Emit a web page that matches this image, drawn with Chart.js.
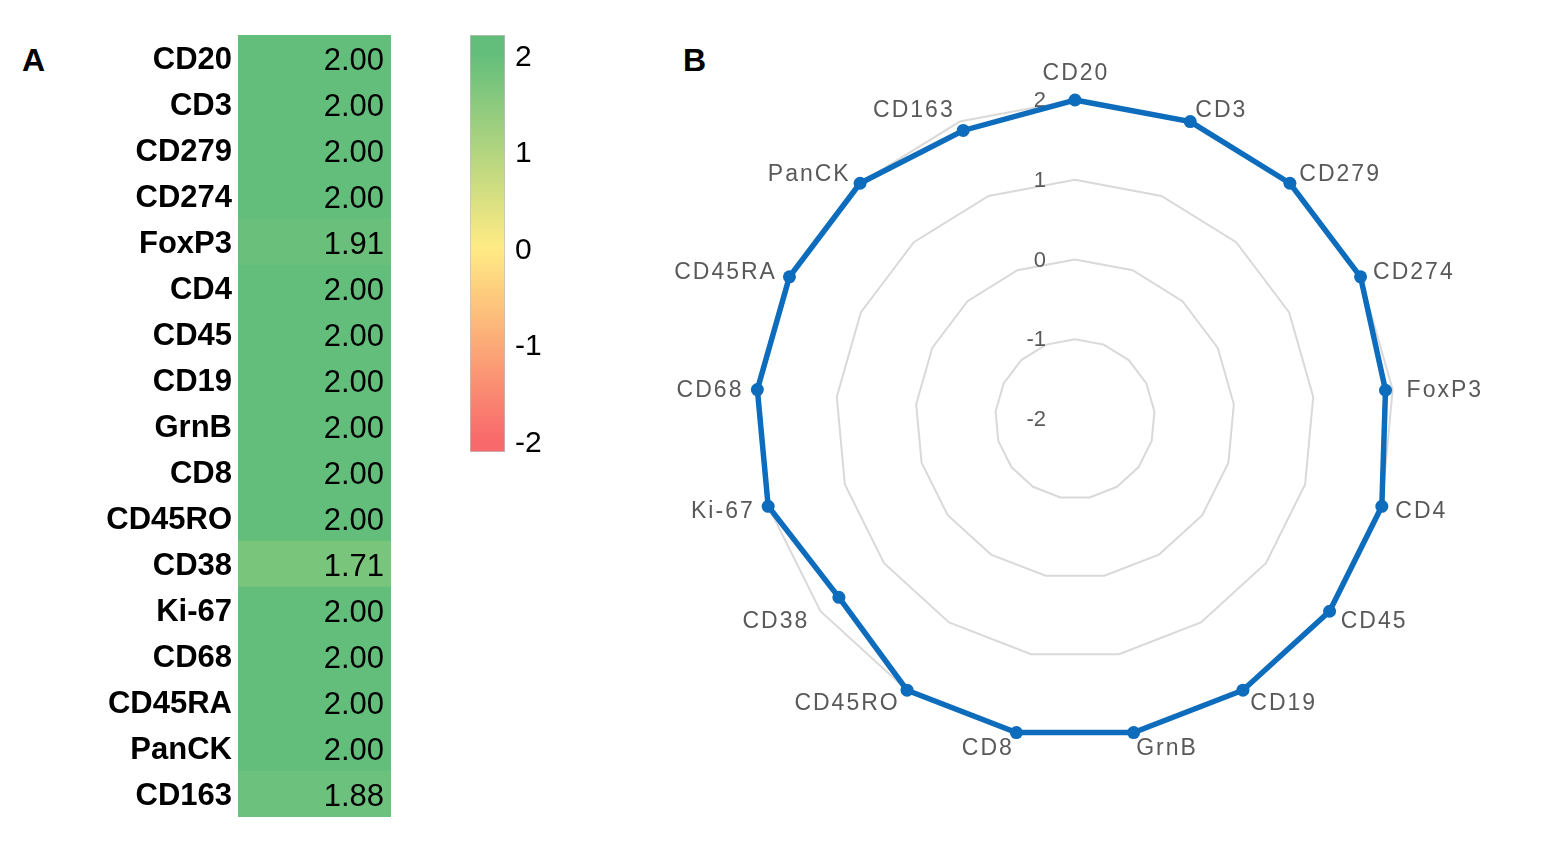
<!DOCTYPE html>
<html><head><meta charset="utf-8">
<script src="https://cdn.jsdelivr.net/npm/chart.js@4"></script>
<style>
html,body{margin:0;padding:0;background:#fff;width:1558px;height:846px;overflow:hidden;font-family:"Liberation Sans",Arial,sans-serif;}
.box{position:absolute;}
.panel{position:absolute;font-weight:bold;font-size:32px;line-height:34px;color:#000;}
</style></head><body>
<div class="panel" style="left:22px;top:43px">A</div>
<div class="panel" style="left:683px;top:43px">B</div>
<div class="box" style="left:0;top:0;width:400px;height:846px"><canvas id="heat"></canvas></div>
<div class="box" style="left:440px;top:0;width:135px;height:480px"><canvas id="scale"></canvas></div>
<div class="box" style="left:640px;top:0;width:918px;height:846px"><canvas id="radar"></canvas></div>
<script>
// ---- data ----
const markers = ['CD20','CD3','CD279','CD274','FoxP3','CD4','CD45','CD19','GrnB','CD8','CD45RO','CD38','Ki-67','CD68','CD45RA','PanCK','CD163'];
const scores  = [2.00,2.00,2.00,2.00,1.91,2.00,2.00,2.00,2.00,2.00,2.00,1.71,2.00,2.00,2.00,2.00,1.88];
const colorScaleTicks = [-2,-1,0,1,2];
const radialTicks = [-2,-1,0,1,2];
const colorStops = {min:-2, mid:0, max:2, low:'#F8696B', midC:'#FFEB84', high:'#63BE7B'};

function hex(h){return [parseInt(h.slice(1,3),16),parseInt(h.slice(3,5),16),parseInt(h.slice(5,7),16)];}
function mix(a,b,t){const A=hex(a),B=hex(b);return 'rgb('+A.map((v,i)=>Math.round(v+(B[i]-v)*t)).join(',')+')';}
function colorFor(v){
  if(v>=colorStops.mid) return mix(colorStops.midC,colorStops.high,(v-colorStops.mid)/(colorStops.max-colorStops.mid));
  return mix(colorStops.low,colorStops.midC,(v-colorStops.min)/(colorStops.mid-colorStops.min));
}
Chart.defaults.font.family = '"Liberation Sans", Arial, sans-serif';

// ---- Panel A: heatmap cells (full-width cells, value encoded by colour) ----
new Chart(document.getElementById('heat'), {
  type:'bar',
  data:{labels:markers, datasets:[{data:markers.map(()=>1), backgroundColor:scores.map(colorFor), barPercentage:1, categoryPercentage:1, borderWidth:0}]},
  options:{
    indexAxis:'y', responsive:true, maintainAspectRatio:false, animation:false,
    layout:{padding:{top:35,bottom:29,right:9,left:0}},
    plugins:{legend:{display:false},tooltip:{enabled:false}},
    scales:{
      x:{min:0,max:1,display:false},
      y:{grid:{display:false,drawTicks:false},border:{display:false},
         ticks:{color:'#000',font:{size:31,weight:'bold'},padding:6,labelOffset:2},
         afterFit(s){s.width=238;}}
    }
  },
  plugins:[{id:'vals',afterDatasetsDraw(chart){
    const ctx=chart.ctx, y=chart.scales.y;
    ctx.save(); ctx.font='31px "Liberation Sans", Arial'; ctx.fillStyle='#000';
    ctx.textAlign='right'; ctx.textBaseline='middle';
    scores.forEach((v,i)=>ctx.fillText(v.toFixed(2), chart.chartArea.right-7, y.getPixelForValue(i)+3));
    ctx.restore();
  }}]
});

// ---- Panel A: colour scale legend ----
const legendMin=-2.12, legendMax=2.2;
new Chart(document.getElementById('scale'), {
  type:'bar',
  data:{labels:[''], datasets:[{data:[[legendMin,legendMax]], barPercentage:1, categoryPercentage:1,
    borderColor:'#bfbfbf', borderWidth:1, borderSkipped:false,
    backgroundColor(c){const ch=c.chart, ys=ch.scales.y; if(!ch.chartArea||!ys) return colorStops.midC;
      const y0=ys.getPixelForValue(colorStops.min), y1=ys.getPixelForValue(colorStops.max);
      if(!isFinite(y0)||!isFinite(y1)) return colorStops.midC;
      const g=ch.ctx.createLinearGradient(0,y0,0,y1);
      g.addColorStop(0,colorStops.low); g.addColorStop(0.5,colorStops.midC); g.addColorStop(1,colorStops.high); return g;}
  }]},
  options:{responsive:true, maintainAspectRatio:false, animation:false,
    layout:{padding:{top:35,bottom:25,left:30,right:0}},
    plugins:{legend:{display:false},tooltip:{enabled:false}},
    scales:{
      x:{display:false},
      y:{position:'right',min:legendMin,max:legendMax,grid:{display:false,drawTicks:false},border:{display:false},
         afterBuildTicks(s){s.ticks=colorScaleTicks.map(v=>({value:v}));},
         ticks:{color:'#000',font:{size:30},padding:10,labelOffset:3},
         afterFit(s){s.width=70;}}
    }
  }
});

// ---- Panel B: radar ----
const radarText = {
  id:'radarText',
  beforeDatasetsDraw(chart){
    const r=chart.scales.r, ctx=chart.ctx;
    ctx.save(); ctx.font='22px "Liberation Sans", Arial'; ctx.fillStyle='#595959';
    ctx.textAlign='right'; ctx.textBaseline='middle';
    radialTicks.forEach(v=>{const d=r.getDistanceFromCenterForValue(v); ctx.fillText(String(v), r.xCenter-29, r.yCenter-d+1);});
    ctx.restore();
  },
  afterDraw(chart){
    const r=chart.scales.r, ctx=chart.ctx;
    ctx.save(); ctx.font='23px "Liberation Sans", Arial'; ctx.fillStyle='#595959';
    try{ctx.letterSpacing='2px';}catch(e){}
    markers.forEach((m,i)=>{
      const a=r.getIndexAngle(i), s=Math.sin(a), c=Math.cos(a);
      const p=r.getPointPosition(i, r.drawingArea+14);
      if(Math.abs(s)<0.05){
        ctx.textAlign='center';
        if(c>0){ctx.textBaseline='alphabetic'; ctx.fillText(m,p.x+1,p.y-6);} else {ctx.textBaseline='top'; ctx.fillText(m,p.x,p.y);}
      } else {
        ctx.textAlign = s>0?'left':'right'; ctx.textBaseline='middle';
        ctx.fillText(m,p.x,p.y+2);
      }
    });
    ctx.restore();
  }
};
new Chart(document.getElementById('radar'), {
  type:'radar',
  data:{labels:markers, datasets:[{data:scores, borderColor:'#0d6cbc', backgroundColor:'#0d6cbc', borderWidth:5.5,
    pointRadius:6.5, pointBackgroundColor:'#0d6cbc', pointBorderWidth:0, fill:false, tension:0}]},
  options:{responsive:true, maintainAspectRatio:false, animation:false,
    layout:{padding:{left:116,right:164,top:100,bottom:108}},
    plugins:{legend:{display:false},tooltip:{enabled:false}},
    scales:{r:{min:-2,max:2,
      afterBuildTicks(s){s.ticks=radialTicks.map(v=>({value:v}));},
      ticks:{display:false},
      pointLabels:{display:false},
      angleLines:{display:false},
      grid:{color:'#d9d9d9',lineWidth:2}}}
  },
  plugins:[radarText]
});
</script>
</body></html>
